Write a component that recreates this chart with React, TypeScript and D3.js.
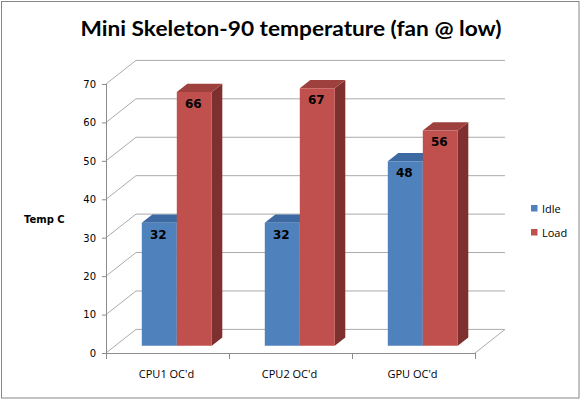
import React from "react";
import * as d3 from "d3";

const categories = ["CPU1 OC'd", "CPU2 OC'd", "GPU OC'd"];
const seriesNames = ["Idle", "Load"];
const idleValues = [32, 32, 48];
const loadValues = [66, 67, 56];
const yTicks = [0, 10, 20, 30, 40, 50, 60, 70];
const title = "Mini Skeleton-90 temperature (fan @ low)";
const yTitle = "Temp C";

const W = 583;
const H = 401;
const frontLeft = 106;
const frontRight = 475;
const frontBottom = 353;
const frontTop = 84;
const depthDX = 30;
const depthDY = -23.6;
const barF0 = 0.31;
const barF1 = 0.66;

const faceColors = [
  { front: "#4F81BD", top: "#3D6AA2", side: "#2F5585" },
  { front: "#C0504D", top: "#9E413E", side: "#7D302E" },
];

export default function App() {
  const yScale = d3.scaleLinear().domain([0, 70]).range([frontBottom, frontTop]);
  const xBand = d3.scaleBand<string>().domain(categories).range([frontLeft, frontRight]).padding(0);
  const groupW = 70;
  const inner = d3.scaleBand<string>().domain(seriesNames).range([0, groupW]).padding(0);

  const pt = (x: number, v: number, f: number): [number, number] => [x + depthDX * f, yScale(v) + depthDY * f];
  const poly = (pts: [number, number][]) => pts.map((p) => p.join(",")).join(" ");

  const series = [idleValues, loadValues];
  const gridColor = "#ABABAB";
  const axisColor = "#8C8C8C";

  const backX0 = frontLeft + depthDX;
  const backX1 = frontRight + depthDX;

  return (
    <svg width={W} height={H} style={{ position: "absolute", left: 0, top: 0, background: "#fff" }}>
      <rect x={1.5} y={1.5} width={577.5} height={396.5} fill="#fff" stroke="#868686" strokeWidth={1} />
      <text
        x={291}
        y={35.7}
        textAnchor="middle"
        fontFamily="Lato"
        fontWeight="bold"
        fontSize={21}
        textLength={421}
        lengthAdjust="spacingAndGlyphs"
        fill="#000"
      >
        {title}
      </text>

      {/* walls gridlines */}
      {yTicks.map((t) => {
        const a = pt(frontLeft, t, 0);
        const b = pt(frontLeft, t, 1);
        return (
          <g key={"g" + t}>
            <line x1={a[0]} y1={a[1]} x2={b[0]} y2={b[1]} stroke={gridColor} strokeWidth={1} />
            <line x1={b[0]} y1={b[1]} x2={backX1} y2={b[1]} stroke={gridColor} strokeWidth={1} />
          </g>
        );
      })}
      {/* floor */}
      <line x1={frontLeft} y1={frontBottom + 0.5} x2={frontRight} y2={frontBottom + 0.5} stroke={axisColor} strokeWidth={1} />
      <line
        x1={frontRight}
        y1={frontBottom}
        x2={pt(frontRight, 0, 1)[0]}
        y2={pt(frontRight, 0, 1)[1]}
        stroke={gridColor}
        strokeWidth={1}
      />
      {/* vertical axis */}
      <line x1={frontLeft + 0.5} y1={frontTop} x2={frontLeft + 0.5} y2={frontBottom} stroke={axisColor} strokeWidth={1} />
      {yTicks.map((t) => (
        <g key={"t" + t}>
          <line x1={frontLeft - 4} y1={yScale(t) + 0.5} x2={frontLeft} y2={yScale(t) + 0.5} stroke={axisColor} strokeWidth={1} />
          <text
            x={96}
            y={yScale(t) + 3.8}
            textAnchor="end"
            fontFamily="DejaVu Sans"
            fontSize={10}
            fill="#000"
          >
            {t}
          </text>
        </g>
      ))}
      {/* category ticks */}
      {[...categories.map((c) => xBand(c)!), frontRight].map((x, i) => (
        <line key={"ct" + i} x1={x + 0.5} y1={frontBottom} x2={x + 0.5} y2={frontBottom + 6} stroke={axisColor} strokeWidth={1} />
      ))}
      {categories.map((c) => (
        <text
          key={"cl" + c}
          x={xBand(c)! + xBand.bandwidth() / 2 - 1}
          y={378}
          textAnchor="middle"
          fontFamily="Open Sans"
          fontSize={11}
          fill="#000"
        >
          {c}
        </text>
      ))}

      {/* bars */}
      {categories.map((c, ci) => {
        const gx = xBand(c)! + xBand.bandwidth() / 2 - groupW / 2;
        return (
          <g key={"b" + c}>
            {seriesNames.map((s, si) => {
              const v = series[si][ci];
              const x0 = gx + inner(s)!;
              const x1 = x0 + inner.bandwidth();
              const col = faceColors[si];
              const fTL = pt(x0, v, barF0);
              const fTR = pt(x1, v, barF0);
              const fBR = pt(x1, 0, barF0);
              const fBL = pt(x0, 0, barF0);
              const bTL = pt(x0, v, barF1);
              const bTR = pt(x1, v, barF1);
              const bBR = pt(x1, 0, barF1);
              return (
                <g key={s}>
                  <polygon points={poly([fTR, bTR, bBR, fBR])} fill={col.side} />
                  <polygon points={poly([fTL, bTL, bTR, fTR])} fill={col.top} />
                  <polygon points={poly([fTL, fTR, fBR, fBL])} fill={col.front} />
                  <text
                    x={(fTL[0] + fTR[0]) / 2 - 1}
                    y={fTL[1] + 16}
                    textAnchor="middle"
                    fontFamily="DejaVu Sans"
                    fontWeight="bold"
                    fontSize={12}
                    fill="#000"
                  >
                    {v}
                  </text>
                </g>
              );
            })}
          </g>
        );
      })}

      <text x={24} y={223} fontFamily="DejaVu Sans" fontWeight="bold" fontSize={10} fill="#000">
        {yTitle}
      </text>

      {/* legend */}
      {seriesNames.map((s, i) => (
        <g key={"lg" + s}>
          <rect x={531} y={205 + i * 24} width={6.5} height={6.5} fill={faceColors[i].front} />
          <text x={542} y={213 + i * 24} fontFamily="Open Sans" fontSize={11} fill="#000">
            {s}
          </text>
        </g>
      ))}
    </svg>
  );
}
